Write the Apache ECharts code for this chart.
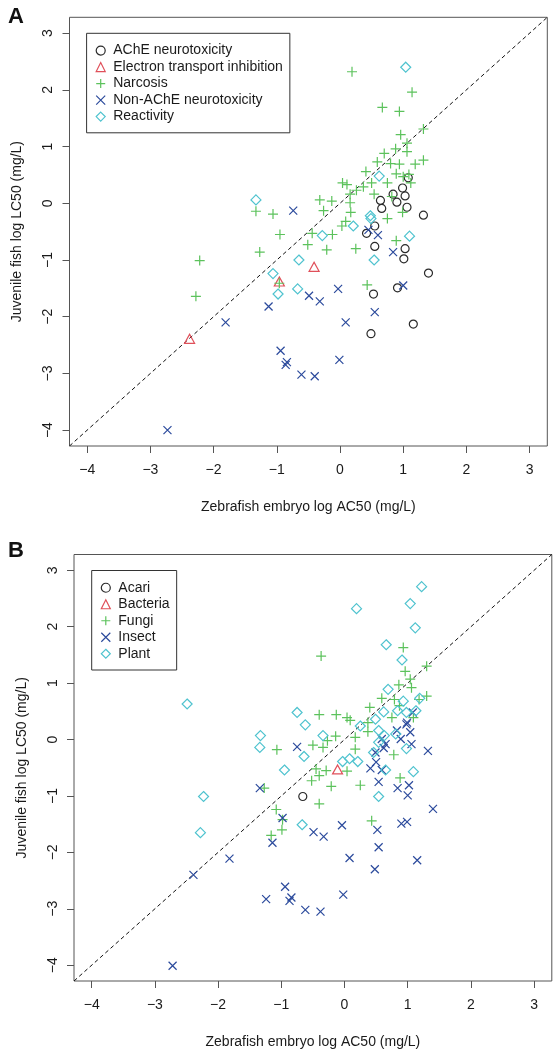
<!DOCTYPE html>
<html><head><meta charset="utf-8">
<script src="https://cdn.jsdelivr.net/npm/echarts@6/dist/echarts.min.js"></script>
<style>html,body{margin:0;padding:0;background:#fff}#c{width:554px;height:1050px}</style>
</head><body><div id="c"></div>
<script>
// ---- tick labels / axis ----
const tickValues = [-4, -3, -2, -1, 0, 1, 2, 3];
const tickLabels = ['\u22124', '\u22123', '\u22122', '\u22121', '0', '1', '2', '3'];
const axisMin = -4.28, axisMax = 3.28;
const xTitle = 'Zebrafish embryo log AC50 (mg/L)';
const yTitle = 'Juvenile fish log LC50 (mg/L)';
const namesA = ['AChE neurotoxicity', 'Electron transport inhibition', 'Narcosis', 'Non-AChE neurotoxicity', 'Reactivity'];
const namesB = ['Acari', 'Bacteria', 'Fungi', 'Insect', 'Plant'];

// ---- panel A data [x, y] ----
const aAChE = [[1.08,0.45],[0.99,0.27],[0.84,0.16],[1.03,0.13],[0.90,0.02],[0.64,0.05],[0.66,-0.09],[1.06,-0.07],[1.32,-0.21],[0.55,-0.40],[0.42,-0.53],[0.55,-0.76],[1.03,-0.80],[1.01,-0.98],[1.40,-1.23],[0.53,-1.60],[0.91,-1.49],[1.16,-2.13],[0.49,-2.30]];
const aElectron = [[-0.41,-1.12],[-0.96,-1.38],[-2.38,-2.39]];
const aNarcosis = [[0.19,2.32],[1.14,1.96],[0.67,1.69],[0.94,1.62],[1.32,1.31],[0.96,1.21],[1.06,1.06],[0.88,0.96],[1.06,0.91],[0.70,0.88],[0.59,0.73],[0.80,0.70],[0.94,0.69],[1.32,0.76],[1.19,0.69],[0.41,0.56],[0.89,0.52],[1.09,0.51],[1.00,0.47],[0.75,0.36],[0.50,0.36],[0.04,0.36],[0.11,0.33],[0.26,0.23],[0.37,0.29],[1.12,0.36],[0.82,0.12],[0.54,0.16],[0.16,0.16],[-0.32,0.06],[-0.13,0.04],[-0.26,-0.13],[0.16,0.01],[0.17,-0.16],[-1.33,-0.14],[-1.06,-0.19],[0.75,-0.27],[0.99,-0.16],[0.03,-0.40],[0.09,-0.32],[-0.12,-0.55],[-0.44,-0.53],[-0.95,-0.55],[-0.51,-0.73],[-0.21,-0.82],[0.25,-0.80],[-1.27,-0.86],[-2.22,-1.01],[0.89,-0.66],[-2.28,-1.64],[0.43,-1.44],[-0.96,-1.41]];
const aNonAChE = [[-0.74,-0.13],[0.45,-0.47],[0.60,-0.56],[0.84,-0.86],[1.00,-1.45],[-0.03,-1.51],[-0.49,-1.63],[-0.32,-1.73],[-1.13,-1.82],[0.55,-1.92],[-1.81,-2.10],[0.09,-2.10],[-0.94,-2.60],[-0.84,-2.80],[-0.86,-2.85],[-0.61,-3.02],[-0.40,-3.05],[-0.01,-2.76],[-2.73,-4.00]];
const aReactivity = [[1.04,2.40],[0.62,0.48],[-1.33,0.06],[0.48,-0.22],[0.49,-0.27],[0.21,-0.40],[-0.28,-0.57],[1.10,-0.58],[-0.65,-1.00],[0.54,-1.00],[-1.06,-1.24],[-0.98,-1.60],[-0.67,-1.51]];

// ---- panel B data [x, y] ----
const bAcari = [[-0.66,-1.01]];
const bBacteria = [[-0.11,-0.53]];
const bFungi = [[-0.37,1.48],[0.93,1.63],[1.30,1.30],[0.96,1.21],[1.04,1.07],[0.86,0.97],[1.06,0.92],[0.59,0.73],[0.79,0.71],[1.30,0.77],[1.18,0.71],[0.40,0.57],[0.87,0.60],[-0.40,0.44],[-0.13,0.44],[0.04,0.39],[0.09,0.34],[0.75,0.39],[1.09,0.39],[0.37,0.30],[0.37,0.14],[0.17,0.04],[-0.27,-0.02],[-0.14,0.06],[-0.50,-0.10],[-1.07,-0.18],[0.17,-0.17],[-0.34,-0.14],[0.78,-0.27],[0.88,-0.68],[0.25,-0.81],[-0.21,-0.83],[-0.52,-0.73],[-0.40,-0.64],[-0.45,-0.52],[-0.29,-0.55],[0.04,-0.56],[-1.27,-0.86],[-0.40,-1.14],[-1.08,-1.24],[-0.98,-1.42],[-0.99,-1.60],[-1.16,-1.70],[0.43,-1.44]];
const bInsect = [[-0.75,-0.13],[-1.34,-0.86],[-0.98,-1.39],[-1.14,-1.83],[-1.82,-2.11],[-2.39,-2.40],[-0.49,-1.64],[-0.33,-1.72],[-0.04,-1.52],[0.52,-1.60],[0.54,-1.91],[0.08,-2.10],[0.48,-2.30],[1.15,-2.14],[0.90,-1.49],[0.99,-1.46],[1.40,-1.23],[0.54,-0.75],[0.84,-0.86],[1.02,-0.81],[1.00,-0.99],[0.41,-0.51],[0.59,-0.54],[0.50,-0.40],[0.59,0.01],[0.65,-0.08],[0.62,-0.15],[0.49,-0.23],[0.83,0.16],[0.89,0.01],[1.04,0.13],[0.98,0.27],[1.06,-0.08],[1.32,-0.20],[1.08,0.48],[0.99,0.30],[-0.94,-2.61],[-0.84,-2.80],[-0.87,-2.86],[-1.24,-2.83],[-0.62,-3.02],[-0.38,-3.05],[-0.02,-2.75],[-2.72,-4.01]];
const bPlant = [[1.22,2.71],[1.04,2.41],[0.19,2.32],[1.12,1.98],[0.66,1.68],[0.91,1.41],[0.69,0.89],[0.93,0.68],[1.19,0.73],[0.62,0.49],[0.84,0.51],[0.98,0.48],[1.13,0.51],[-0.75,0.48],[-0.62,0.26],[-2.49,0.63],[-1.33,0.07],[0.25,0.24],[0.49,0.36],[0.54,0.16],[-0.34,0.07],[-1.34,-0.14],[-0.64,-0.30],[-0.95,-0.54],[-2.23,-1.01],[-2.28,-1.65],[-0.67,-1.51],[-0.03,-0.39],[0.08,-0.34],[0.21,-0.39],[0.54,-0.05],[0.46,-0.23],[0.63,0.07],[0.65,-0.54],[0.54,-1.01],[1.09,-0.57],[0.98,-0.16],[0.81,0.10]];

// ---- styles ----
const FONT = '"Liberation Sans", Arial, Helvetica, sans-serif';
const TXT = '#1a1a1a';
const AX = '#555';
const marks = {
  circle:   { symbol: 'circle', size: 8, color: '#2a2a2a' },
  triangle: { symbol: 'triangle', size: [10, 9], color: '#e0505a' },
  plus:     { symbol: 'path://M0,5L10,5M5,0L5,10', size: 10, color: '#5cc25c' },
  cross:    { symbol: 'path://M0,0L10,10M10,0L0,10', size: 8, color: '#2b4a9c' },
  diamond:  { symbol: 'diamond', size: [10, 10], color: '#4fc3cf' }
};
const kinds = ['circle', 'triangle', 'plus', 'cross', 'diamond'];

function scatter(name, data, kind, idx) {
  const m = marks[kind];
  return {
    type: 'scatter', name: name, data: data,
    xAxisIndex: idx, yAxisIndex: idx,
    symbol: m.symbol, symbolSize: m.size,
    itemStyle: { color: 'rgba(0,0,0,0)', borderColor: m.color, borderWidth: 1.2, opacity: 1 },
    emphasis: { disabled: true },
    z: 3
  };
}
function diag(idx) {
  return {
    type: 'line', data: [[axisMin, axisMin], [axisMax, axisMax]],
    xAxisIndex: idx, yAxisIndex: idx, symbol: 'none', silent: true,
    lineStyle: { color: '#111', width: 1, type: [4, 3] }, z: 2
  };
}
function fmt(v) { const i = tickValues.indexOf(Math.round(v)); return i >= 0 ? tickLabels[i] : ''; }
function xAx(idx) {
  return {
    type: 'value', gridIndex: idx, min: axisMin, max: axisMax,
    name: xTitle, nameLocation: 'middle', nameGap: 54,
    nameTextStyle: { fontFamily: FONT, fontSize: 14, color: TXT },
    axisLine: { show: false, onZero: false }, splitLine: { show: false },
    axisTick: { show: true, length: 7, customValues: tickValues, lineStyle: { color: AX } },
    axisLabel: { customValues: tickValues, formatter: fmt, margin: 17, fontFamily: FONT, fontSize: 14, color: TXT }
  };
}
function yAx(idx) {
  return {
    type: 'value', gridIndex: idx, min: axisMin, max: axisMax,
    name: yTitle, nameLocation: 'middle', nameGap: 45, nameRotate: 90,
    nameTextStyle: { fontFamily: FONT, fontSize: 14, color: TXT },
    axisLine: { show: false, onZero: false }, splitLine: { show: false },
    axisTick: { show: true, length: 7, customValues: tickValues, lineStyle: { color: AX } },
    axisLabel: { customValues: tickValues, formatter: fmt, rotate: 90, margin: 14, fontFamily: FONT, fontSize: 14, color: TXT }
  };
}
function legend(names, idxLeft, idxTop) {
  return {
    data: names, orient: 'vertical', left: idxLeft, top: idxTop,
    padding: [9, 7, 8, 9], itemGap: 0, itemWidth: 9, itemHeight: 9,
    borderColor: '#333', borderWidth: 1, borderRadius: 0,
    selectedMode: false,
    itemStyle: { borderWidth: 1.2 },
    textStyle: { fontFamily: FONT, fontSize: 14, color: TXT, lineHeight: 16.5, padding: [0, 0, 0, 3] }
  };
}

const seriesA = [aAChE, aElectron, aNarcosis, aNonAChE, aReactivity];
const seriesB = [bAcari, bBacteria, bFungi, bInsect, bPlant];
const series = [diag(0), diag(1)];
namesA.forEach((n, i) => series.push(scatter(n, seriesA[i], kinds[i], 0)));
namesB.forEach((n, i) => series.push(scatter(n, seriesB[i], kinds[i], 1)));

const chart = echarts.init(document.getElementById('c'), null, { renderer: 'canvas' });
chart.setOption({
  animation: false,
  backgroundColor: '#fff',
  title: [
    { text: 'A', left: 3, top: 1, textStyle: { fontFamily: FONT, fontSize: 22, fontWeight: 'bold', color: '#111' } },
    { text: 'B', left: 3, top: 535, textStyle: { fontFamily: FONT, fontSize: 22, fontWeight: 'bold', color: '#111' } }
  ],
  grid: [
    { left: 69.5, top: 17.3, width: 477.8, height: 428.7, show: true, borderColor: AX, borderWidth: 1, backgroundColor: 'transparent' },
    { left: 74, top: 554.5, width: 477.8, height: 428.7, show: true, borderColor: AX, borderWidth: 1, backgroundColor: 'transparent' }
  ],
  xAxis: [xAx(0), xAx(1)],
  yAxis: [yAx(0), yAx(1)],
  legend: [legend(namesA, 86.6, 33.3), legend(namesB, 91.7, 570.5)],
  series: series
});
</script></body></html>
